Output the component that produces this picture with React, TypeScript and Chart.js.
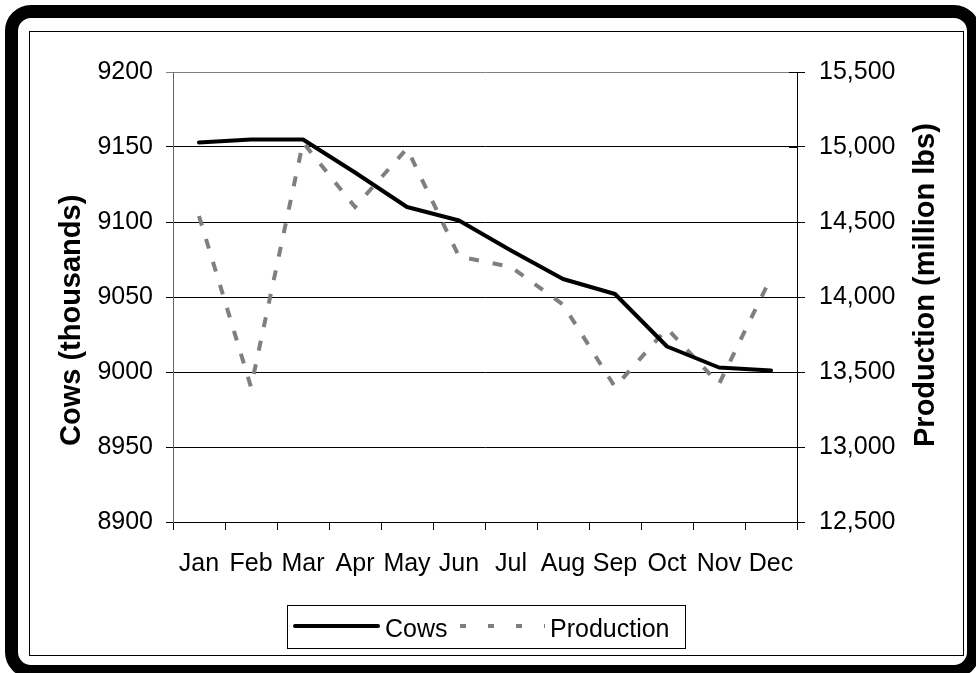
import React, { useEffect, useRef } from "react";
import { Chart, registerables } from "chart.js";

Chart.register(...registerables);

// Monthly dairy herd and milk output
const months = ["Jan", "Feb", "Mar", "Apr", "May", "Jun", "Jul", "Aug", "Sep", "Oct", "Nov", "Dec"];
const cowsThousands = [9153, 9155, 9155, 9133, 9110, 9101, 9081, 9062, 9052, 9017, 9003, 9001];
const productionMillionLbs = [14540, 13400, 15030, 14600, 14990, 14270, 14200, 13950, 13400, 13790, 13420, 14130];

const cowAxis = { min: 8900, max: 9200, step: 50 };
const productionAxis = { min: 12500, max: 15500, step: 500 };

const cowTitle = "Cows (thousands)";
const productionTitle = "Production (million lbs)";

const FONT = "Arial, 'Liberation Sans', Helvetica, sans-serif";

// Rotated axis titles, inner half of the right-axis ticks, and a boxed legend
const chartDecor = {
  id: "chartDecor",
  afterDraw(chart: any) {
    const { ctx, chartArea: ca, scales } = chart;
    ctx.save();

    const y1 = scales.y1;
    ctx.strokeStyle = "#000";
    ctx.lineWidth = 1;
    ctx.setLineDash([]);
    y1.ticks.forEach((_t: any, i: number) => {
      const py = Math.round(y1.getPixelForTick(i)) + 0.5;
      ctx.beginPath();
      ctx.moveTo(ca.right - 8, py);
      ctx.lineTo(ca.right, py);
      ctx.stroke();
    });

    const rotated = (text: string, x: number, y: number) => {
      ctx.save();
      ctx.translate(x, y);
      ctx.rotate(-Math.PI / 2);
      ctx.fillText(text, 0, 0);
      ctx.restore();
    };
    ctx.font = `bold 29px ${FONT}`;
    ctx.fillStyle = "#000";
    ctx.textBaseline = "middle";
    ctx.textAlign = "left";
    rotated(cowTitle, ca.left - 101, ca.bottom - 76);
    rotated(productionTitle, ca.right + 129, ca.bottom - 75);

    // legend
    const lx = Math.round(ca.left + 114);
    const ly = Math.round(ca.bottom + 83);
    ctx.strokeStyle = "#000";
    ctx.lineWidth = 1;
    ctx.strokeRect(lx + 0.5, ly + 0.5, 398, 43);

    const ds = chart.data.datasets;
    const sy = ly + 21;
    ctx.lineWidth = ds[0].borderWidth;
    ctx.strokeStyle = ds[0].borderColor;
    ctx.lineCap = "round";
    ctx.beginPath();
    ctx.moveTo(lx + 8, sy);
    ctx.lineTo(lx + 91, sy);
    ctx.stroke();

    ctx.lineWidth = ds[1].borderWidth;
    ctx.strokeStyle = ds[1].borderColor;
    ctx.lineCap = "butt";
    ctx.setLineDash([6, 22]);
    ctx.beginPath();
    ctx.moveTo(lx + 173, sy);
    ctx.lineTo(lx + 258, sy);
    ctx.stroke();
    ctx.setLineDash([]);

    ctx.font = `25px ${FONT}`;
    ctx.fillStyle = "#000";
    ctx.textBaseline = "alphabetic";
    ctx.fillText(ds[0].label, lx + 98, ly + 32);
    ctx.fillText(ds[1].label, lx + 263, ly + 32);

    ctx.restore();
  },
};

function DairyChart() {
  const canvasRef = useRef<HTMLCanvasElement | null>(null);

  useEffect(() => {
    const canvas = canvasRef.current;
    if (!canvas) return;
    const chart = new Chart(canvas, {
      type: "line",
      data: {
        labels: months,
        datasets: [
          {
            label: "Cows",
            data: cowsThousands,
            yAxisID: "y",
            borderColor: "#000000",
            backgroundColor: "#000000",
            borderWidth: 4,
            borderJoinStyle: "round",
            borderCapStyle: "round",
            pointRadius: 0,
            tension: 0,
            order: 0,
          },
          {
            label: "Production",
            data: productionMillionLbs,
            yAxisID: "y1",
            borderColor: "#7f7f7f",
            backgroundColor: "#7f7f7f",
            borderWidth: 4,
            borderDash: [10, 14],
            borderJoinStyle: "miter",
            pointRadius: 0,
            tension: 0,
            order: 1,
          },
        ],
      },
      options: {
        responsive: false,
        animation: false,
        events: [],
        layout: { padding: { top: 40, left: 0, right: 0, bottom: 0 } },
        plugins: {
          legend: { display: false },
          tooltip: { enabled: false },
        },
        scales: {
          x: {
            type: "category",
            offset: true,
            grid: {
              offset: true,
              drawOnChartArea: false,
              drawTicks: true,
              tickLength: 8,
              color: "#000",
            },
            border: { color: "#000", width: 1 },
            ticks: {
              color: "#000",
              padding: 19,
              maxRotation: 0,
              autoSkip: false,
              font: { family: FONT, size: 25 },
            },
            afterFit: (scale: any) => {
              scale.height = 132;
            },
          },
          y: {
            position: "left",
            min: cowAxis.min,
            max: cowAxis.max,
            grid: {
              color: (c: any) => (c.tick && c.tick.value === cowAxis.max ? "#808080" : "#000"),
              tickLength: 7,
              lineWidth: 1,
            },
            border: { color: "#666", width: 1 },
            ticks: {
              stepSize: cowAxis.step,
              color: "#000",
              padding: 13,
              font: { family: FONT, size: 25 },
              callback: (v: any) => String(v),
            },
            afterFit: (scale: any) => {
              scale.width = 143;
            },
          },
          y1: {
            position: "right",
            min: productionAxis.min,
            max: productionAxis.max,
            grid: {
              drawOnChartArea: false,
              tickLength: 8,
              color: "#000",
            },
            border: { color: "#000", width: 1 },
            ticks: {
              stepSize: productionAxis.step,
              color: "#000",
              padding: 14,
              font: { family: FONT, size: 25 },
              callback: (v: any) => Number(v).toLocaleString("en-US"),
            },
            afterFit: (scale: any) => {
              scale.width = 165;
            },
          },
        },
      },
      plugins: [chartDecor],
    });
    return () => chart.destroy();
  }, []);

  return (
    <canvas
      ref={canvasRef}
      width={932}
      height={622}
      style={{ position: "absolute", left: 30, top: 32, width: 932, height: 622 }}
    />
  );
}

export default function App() {
  return (
    <div
      style={{
        position: "fixed",
        left: 0,
        top: 0,
        width: 976,
        height: 673,
        background: "#fff",
        overflow: "hidden",
      }}
    >
      <div
        style={{
          position: "absolute",
          left: 5,
          top: 5,
          width: 975,
          height: 673,
          border: "13px solid #000",
          borderRadius: 26,
          boxSizing: "border-box",
        }}
      />
      <div
        style={{
          position: "absolute",
          left: 29,
          top: 31,
          width: 935,
          height: 625,
          border: "1px solid #000",
          boxSizing: "border-box",
        }}
      />
      <DairyChart />
    </div>
  );
}
